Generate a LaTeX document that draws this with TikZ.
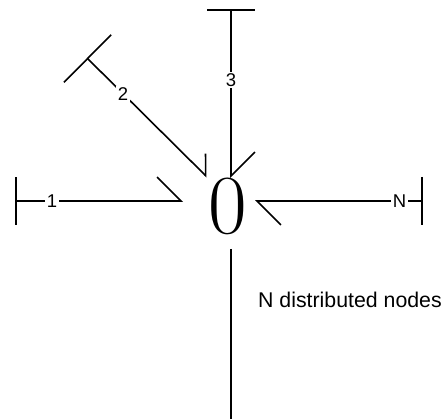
\documentclass[tikz,border=0pt]{standalone}
\usepackage{fontspec}
\setsansfont{Liberation Sans}
\usetikzlibrary{arrows.meta, positioning}
\tikzset{
    hub/.style={inner sep=0pt, font=\rmfamily\fontsize{84}{84}\selectfont},
    tag/.style={fill=white, inner sep=1.5pt, font=\sffamily\fontsize{18.5}{18.5}\selectfont},
    note/.style={inner sep=0pt, font=\sffamily\fontsize{21.3}{21.3}\selectfont},
    link/.style={line width=1.6pt, {Bar[width=48pt]}-{Straight Barb[left, length=24pt, width=48pt]}},
    slant/.style={line width=1.6pt, {Bar[width=67pt]}-{Straight Barb[left, length=15.6pt, width=31.2pt]}},
    plain/.style={line width=1.6pt}
}
\begin{document}
\begin{tikzpicture}[x=1pt, y=-1pt]
    \useasboundingbox (0,0) rectangle (445,419);
    \node (zero) [hub] at (227.5,206.5) {0};
    \coordinate (s1) at (15,201);
    \coordinate (s2) at (87,58);
    \coordinate (s3) at (231,9);
    \coordinate (sN) at (423,201);
    \coordinate (t1) at (183,201);
    \coordinate (t2) at (207,177);
    \coordinate (t3) at (231,178);
    \coordinate (tN) at (255,201);
    \coordinate (d1) at (231,249);
    \coordinate (d2) at (231,419);
    \node (info) [note, anchor=west] at (258,300) {N distributed nodes};

    \draw [link] (s1) -- node [tag, pos=0.22] {1} (t1);
    \draw [slant] (s2) -- node [tag, pos=0.3] {2} (t2);
    \draw [link] (s3) -- node [tag, pos=0.42] {3} (t3);
    \draw [link] (sN) -- node [tag, pos=0.14] {N} (tN);
    \draw [plain] (d1) -- (d2);
\end{tikzpicture}
\end{document}
